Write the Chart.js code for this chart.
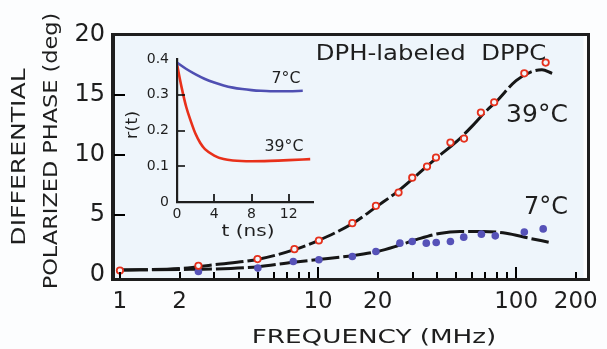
<!DOCTYPE html>
<html>
<head>
<meta charset="utf-8">
<script src="https://cdn.jsdelivr.net/npm/chart.js@4.4.1/dist/chart.umd.min.js"></script>
<style>
  html,body{margin:0;padding:0;background:#fcfdfe;}
  #wrap{position:relative;width:607px;height:349px;}
  #main{position:absolute;left:0;top:0;}
  #inset{position:absolute;left:100px;top:40px;}
  #frame{position:absolute;left:111px;top:33px;width:479px;height:248px;box-sizing:border-box;border:3px solid #1e1e1e;pointer-events:none;}
  #insetY{position:absolute;left:176px;top:58px;width:2px;height:145px;background:#1e1e1e;pointer-events:none;}
  #insetX{position:absolute;left:176px;top:201px;width:137px;height:2px;background:#1e1e1e;pointer-events:none;}
</style>
</head>
<body>
<div id="wrap">
  <canvas id="main" width="607" height="349"></canvas>
  <canvas id="inset" width="230" height="210"></canvas>
  <div id="frame"></div>
  <div id="insetY"></div>
  <div id="insetX"></div>
</div>
<script>
// ---------- main chart data ----------
const freq39  = [1, 2.49, 4.95, 7.6, 10.1, 14.9, 19.6, 25.5, 29.9, 35.5, 39.4, 46.6, 54.6, 66.4, 77.5, 110, 141];
const phase39 = [0.36, 0.75, 1.31, 2.14, 2.86, 4.31, 5.75, 6.86, 8.1, 9.03, 9.78, 11.03, 11.36, 13.53, 14.39, 16.8, 17.7];
const freq7   = [2.49, 4.97, 7.5, 10.1, 14.9, 19.6, 25.9, 29.9, 35.2, 39.5, 46.6, 54.4, 66.8, 78.5, 110, 137];
const phase7  = [0.28, 0.56, 1.11, 1.25, 1.53, 1.94, 2.64, 2.78, 2.64, 2.69, 2.78, 3.14, 3.39, 3.25, 3.56, 3.83];
const fitFreq39 = [1, 2, 3, 5, 7.6, 10, 15, 20, 25, 30, 40, 50, 60, 70, 80, 100, 120, 135, 152];
const fit39     = [0.4, 0.52, 0.85, 1.3, 2.1, 2.85, 4.3, 5.75, 6.9, 8.0, 9.8, 11.1, 12.4, 13.6, 14.5, 16.2, 16.95, 17.1, 16.8];
const fitFreq7  = [1, 2, 3, 5, 7.5, 10, 15, 20, 25, 31.6, 41, 52, 68, 89, 116, 146];
const fit7      = [0.4, 0.45, 0.48, 0.68, 1.05, 1.27, 1.6, 1.95, 2.4, 2.95, 3.45, 3.62, 3.62, 3.47, 3.06, 2.72];
const xTickLabels = [1, 2, 10, 20, 100, 200];
const xMinorTicks = [3, 4, 5, 6, 7, 8, 9, 30, 40, 50, 60, 70, 80, 90];
const yTickLabels = [0, 5, 10, 15, 20];

// ---------- inset data ----------
const tBlue = [0, 1, 2, 3, 4, 5, 6, 7, 8, 9, 10, 11, 12, 13.5];
const rBlue = [0.39, 0.372, 0.357, 0.344, 0.334, 0.326, 0.32, 0.316, 0.313, 0.311, 0.31, 0.31, 0.31, 0.311];
const tRed  = [0, 0.5, 1, 1.5, 2, 2.5, 3, 4, 5, 6, 8, 10, 12, 14.3];
const rRed  = [0.385, 0.32, 0.265, 0.225, 0.19, 0.165, 0.148, 0.13, 0.12, 0.116, 0.114, 0.115, 0.117, 0.12];
const insetXTicks = [0, 4, 8, 12];
const insetYTicks = [0, 0.1, 0.2, 0.3, 0.4];

const FONT = "'DejaVu Sans', sans-serif";
const INK = '#1e1e1e';
const zip = (xs, ys) => xs.map((x, i) => ({x, y: ys[i]}));

function drawText(ctx, str, x, y, size, stretch, rot) {
  ctx.save();
  ctx.translate(x, y);
  if (rot) ctx.rotate(rot);
  ctx.scale(stretch || 1, 1);
  ctx.font = size + 'px ' + FONT;
  ctx.fillStyle = INK;
  ctx.textAlign = 'center';
  ctx.textBaseline = 'middle';
  ctx.fillText(str, 0, 0);
  ctx.restore();
}

const mainDeco = {
  id: 'mainDeco',
  beforeDraw(chart) {
    const {ctx, chartArea: a} = chart;
    ctx.save();
    ctx.fillStyle = '#fcfdfe';
    ctx.fillRect(0, 0, chart.width, chart.height);
    ctx.fillStyle = '#eef5fb';
    ctx.fillRect(a.left, a.top, a.right - a.left, a.bottom - a.top);
    ctx.restore();
  },
  afterDraw(chart) {
    const ctx = chart.ctx;
    const a = chart.chartArea;
    const sx = chart.scales.x, sy = chart.scales.y;
    ctx.save();
    ctx.strokeStyle = '#000000';
    ctx.lineWidth = 2;
    ctx.beginPath();
    xMinorTicks.concat(xTickLabels).forEach(v => {
      const px = Math.round(sx.getPixelForValue(v));
      if (px <= a.left + 2 || px >= a.right - 2) return;
      const len = (v === 10 || v === 100) ? 12 : 7;
      ctx.moveTo(px, a.bottom);
      ctx.lineTo(px, a.bottom - len);
    });
    yTickLabels.forEach(v => {
      const py = Math.round(sy.getPixelForValue(v));
      if (py <= a.top + 2 || py >= a.bottom - 4) return;
      ctx.moveTo(a.left, py);
      ctx.lineTo(a.left + 12, py);
    });
    ctx.stroke();
    ctx.restore();
    drawText(ctx, 'DPH-labeled  DPPC', 431, 55, 21, 1.16);
    drawText(ctx, '39°C', 537, 115, 25, 1.0);
    drawText(ctx, '7°C', 546, 207, 25, 0.96);
    drawText(ctx, 'FREQUENCY (MHz)', 374, 338, 19, 1.38);
    drawText(ctx, 'DIFFERENTIAL', 20, 157, 19, 1.32, -Math.PI / 2);
    drawText(ctx, 'POLARIZED PHASE (deg)', 52, 151, 19, 1.18, -Math.PI / 2);
  }
};

const frameBorder = {display: true, width: 3, color: INK};
const quietGrid = {display: true, drawOnChartArea: false, drawTicks: false, color: 'rgba(0,0,0,0)'};

new Chart(document.getElementById('main'), {
  type: 'scatter',
  data: {
    datasets: [
      {data: zip(freq39, phase39), showLine: false, pointRadius: 3.2, pointBorderWidth: 1.8,
       pointBorderColor: '#e5311d', pointBackgroundColor: '#f3f6fa', order: 1},
      {data: zip(freq7, phase7), showLine: false, pointRadius: 3.8, pointBorderWidth: 0,
       pointBorderColor: '#5652b8', pointBackgroundColor: '#5652b8', order: 2},
      {data: zip(fitFreq39, fit39), showLine: true, pointRadius: 0, borderColor: '#161616',
       borderWidth: 3, borderDash: [28, 4], cubicInterpolationMode: 'monotone', order: 3},
      {data: zip(fitFreq7, fit7), showLine: true, pointRadius: 0, borderColor: '#161616',
       borderWidth: 3, borderDash: [28, 4], cubicInterpolationMode: 'monotone', order: 4}
    ]
  },
  options: {
    responsive: false, animation: false, devicePixelRatio: 1,
    layout: {padding: {top: 35, right: 19, left: 0, bottom: 0}},
    plugins: {legend: {display: false}, tooltip: {enabled: false}},
    scales: {
      x: {
        type: 'logarithmic', min: 0.9226, max: 218.8,
        grid: quietGrid, border: frameBorder,
        afterBuildTicks: s => { s.ticks = xTickLabels.map(v => ({value: v})); },
        afterFit: s => { s.height = 70; },
        ticks: {autoSkip: false, maxRotation: 0, padding: 9, font: {size: 23, family: FONT}, color: INK,
                callback: v => String(v)}
      },
      y: {
        type: 'linear', min: -0.35, max: 20,
        grid: quietGrid, border: frameBorder,
        afterBuildTicks: s => { s.ticks = yTickLabels.map(v => ({value: v})); },
        afterFit: s => { s.width = 113; },
        ticks: {padding: 8, font: {size: 24, family: FONT}, color: INK, callback: v => String(v)}
      }
    }
  },
  plugins: [mainDeco]
});

// ---------- inset ----------
const insetDeco = {
  id: 'insetDeco',
  afterDraw(chart) {
    const ctx = chart.ctx;
    const a = chart.chartArea;
    const sx = chart.scales.x, sy = chart.scales.y;
    ctx.save();
    ctx.strokeStyle = '#000000';
    ctx.lineWidth = 1.6;
    ctx.beginPath();
    insetXTicks.forEach(v => {
      const px = Math.round(sx.getPixelForValue(v));
      if (px <= a.left + 2) return;
      ctx.moveTo(px, a.bottom);
      ctx.lineTo(px, a.bottom - 8);
    });
    insetYTicks.forEach(v => {
      const py = Math.round(sy.getPixelForValue(v));
      if (py >= a.bottom - 2 || py <= a.top + 1) return;
      ctx.moveTo(a.left, py);
      ctx.lineTo(a.left + 8, py);
    });
    ctx.stroke();
    ctx.restore();
    drawText(ctx, 'r(t)', 33, 85, 15, 1.2, -Math.PI / 2);
    drawText(ctx, 't (ns)', 148, 192, 16, 1.25);
    drawText(ctx, '7°C', 186, 39, 15, 1.05);
    drawText(ctx, '39°C', 184, 107, 15, 1.05);
  }
};

const insetBorder = {display: true, width: 2.2, color: INK};
new Chart(document.getElementById('inset'), {
  type: 'scatter',
  data: {
    datasets: [
      {data: zip(tBlue, rBlue), showLine: true, pointRadius: 0, borderColor: '#4f4fb2',
       borderWidth: 2.6, cubicInterpolationMode: 'monotone'},
      {data: zip(tRed, rRed), showLine: true, pointRadius: 0, borderColor: '#e8301a',
       borderWidth: 2.6, cubicInterpolationMode: 'monotone'}
    ]
  },
  options: {
    responsive: false, animation: false, devicePixelRatio: 1,
    layout: {padding: {top: 19, right: 17, left: 0, bottom: 0}},
    plugins: {legend: {display: false}, tooltip: {enabled: false}},
    scales: {
      x: {
        type: 'linear', min: 0, max: 14.6,
        grid: quietGrid, border: insetBorder,
        afterBuildTicks: s => { s.ticks = insetXTicks.map(v => ({value: v})); },
        afterFit: s => { s.height = 48; },
        ticks: {autoSkip: false, maxRotation: 0, padding: 4, font: {size: 14, family: FONT}, color: INK,
                callback: v => String(v)}
      },
      y: {
        type: 'linear', min: 0, max: 0.4,
        grid: quietGrid, border: insetBorder,
        afterBuildTicks: s => { s.ticks = insetYTicks.map(v => ({value: v})); },
        afterFit: s => { s.width = 77; },
        ticks: {padding: 8, font: {size: 14, family: FONT}, color: INK, callback: v => (v === 0 ? '0' : v.toFixed(1))}
      }
    }
  },
  plugins: [insetDeco]
});
</script>
</body>
</html>
